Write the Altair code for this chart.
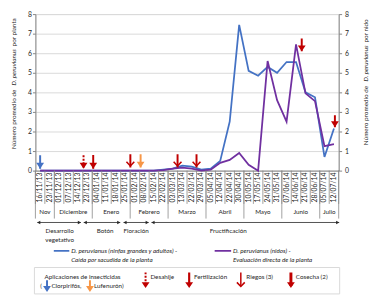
import altair as alt
import pandas as pd

# ---------------- data ----------------
dates = ["16/11/13", "23/11/13", "01/12/13", "07/12/13", "14/12/13", "23/12/13",
         "04/01/14", "11/01/14", "18/01/14", "25/01/14", "01/02/14", "08/02/14",
         "15/02/14", "22/02/14", "03/03/14", "13/03/14", "22/03/14", "29/03/14",
         "05/04/14", "12/04/14", "22/04/14", "30/04/14", "10/05/14", "17/05/14",
         "24/05/14", "31/05/14", "07/06/14", "14/06/14", "21/06/14", "28/06/14",
         "05/07/14", "12/07/14"]
blue_vals = [0, 0, 0, 0, 0, 0, 0, 0, 0, 0, 0, 0,
             0, 0.05, 0.1, 0.25, 0.2, 0.05, 0.1, 0.5, 2.5, 7.45, 5.1, 4.85,
             5.3, 5.0, 5.55, 5.55, 4.0, 3.75, 0.7, 2.15]
purple_vals = [0, 0, 0, 0, 0, 0, 0, 0, 0, 0, 0, 0,
               0, 0.02, 0.1, 0.15, 0.1, 0.0, 0.05, 0.4, 0.55, 0.9, 0.3, 0.0,
               5.6, 3.6, 2.5, 6.45, 3.95, 3.55, 1.25, 1.35]
months = ["Nov", "Diciembre", "Enero", "Febrero", "Marzo", "Abril", "Mayo", "Junio", "Julio"]
month_first = [0, 2, 6, 10, 14, 18, 22, 26, 30]
month_last = [1, 5, 9, 13, 17, 21, 25, 29, 31]
phase_from = [-0.3, 4.6, 8.8, 11.75]
phase_to = [4.3, 8.45, 11.45, 31.55]
phase_label = ["Desarrollo", "Botón", "Floración", "Fructificación"]
phase_label_at = [2.06, 6.86, 10.13, 19.85]
arrow_kind = ["Clorpirifós", "Desahije", "Fertilización", "Riegos", "Lufenurón",
              "Riegos", "Riegos", "Cosecha", "Cosecha"]
arrow_at = [0.0, 4.58, 5.6, 9.52, 10.6, 14.5, 16.5, 27.6, 31.1]
arrow_top = [0.78, 0.78, 0.8, 0.84, 0.84, 0.84, 0.84, 6.75, 2.83]
arrow_tip = [0.1, 0.1, 0.1, 0.16, 0.16, 0.16, 0.16, 6.1, 2.22]

# ---------------- styles ----------------
W, H = 310, 160
FONT = "Lato"
FS = 6.4
TXT = "#262626"
BLUE = "#4472C4"
PURPLE = "#7030A0"
RED = "#C00000"
ORANGE = "#F79646"
kinds = ["Clorpirifós", "Lufenurón", "Desahije", "Fertilización", "Riegos", "Cosecha"]
kind_color = [BLUE, ORANGE, RED, RED, RED, RED]
kind_width = [2, 2, 2, 2.2, 1.5, 3]
kind_dash = [[1, 0], [1, 0], [2, 1.5], [1, 0], [1, 0], [1, 0]]
HEAD = "M-1,-0.5L1,-0.5L0,1Z"
VHEAD = "M-1,-0.45L0,0.6L1,-0.45"


def PX(xref):
    return (xref - 33) * W / 313.0


def PY(yref):
    return yref - 11


xsc = alt.Scale(domain=[-0.5, 31.5], nice=False, zero=False)
ysc = alt.Scale(domain=[0, 8], nice=False)

series = pd.DataFrame({"i": list(range(len(dates))), "d": dates,
                       "blue": blue_vals, "purple": purple_vals})

blue = alt.Chart(series).mark_line(color=BLUE, strokeWidth=1.8).encode(
    x=alt.X("i:Q", scale=xsc,
            axis=alt.Axis(labels=False, ticks=False, grid=False, domainColor="#868686",
                          title=None)),
    y=alt.Y("blue:Q", scale=ysc,
            axis=alt.Axis(values=list(range(9)), grid=True, gridColor="#D9D9D9",
                          tickSize=3, tickColor="#868686", domainColor="#868686",
                          labelFont=FONT, labelFontSize=7, labelColor=TXT,
                          labelPadding=1, title=None)))
purple = alt.Chart(series).mark_line(color=PURPLE, strokeWidth=1.8).encode(
    x=alt.X("i:Q", scale=xsc),
    y=alt.Y("purple:Q", scale=ysc,
            axis=alt.Axis(orient="right", values=list(range(9)), grid=False,
                          tickSize=3, tickColor="#868686", domainColor="#868686",
                          labelFont=FONT, labelFontSize=7, labelColor=TXT,
                          labelPadding=3, title=None)))
date_labels = alt.Chart(series).mark_text(
    font=FONT, fontSize=7, color=TXT, angle=270, align="right", baseline="middle").encode(
    x=alt.X("i:Q", scale=xsc), y=alt.value(H + 2), text="d:N")

# ---- arrows in the chart ----
arrows = pd.DataFrame({"kind": arrow_kind, "at": arrow_at, "top": arrow_top, "tip": arrow_tip})
cscale = alt.Scale(domain=kinds, range=kind_color)
stems = alt.Chart(arrows).mark_rule().encode(
    x=alt.X("at:Q", scale=xsc),
    y=alt.Y("top:Q", scale=ysc, axis=None),
    y2="tip:Q",
    color=alt.Color("kind:N", scale=cscale, legend=None),
    strokeWidth=alt.StrokeWidth("kind:N", scale=alt.Scale(domain=kinds, range=kind_width), legend=None),
    strokeDash=alt.StrokeDash("kind:N", scale=alt.Scale(domain=kinds, range=kind_dash), legend=None))
heads = alt.Chart(arrows).transform_filter("datum.kind != 'Riegos'").mark_point(
    shape=HEAD, size=64, filled=True, opacity=1, yOffset=-4).encode(
    x=alt.X("at:Q", scale=xsc),
    y=alt.Y("tip:Q", scale=ysc, axis=None),
    color=alt.Color("kind:N", scale=cscale, legend=None))
vheads = alt.Chart(arrows).transform_filter("datum.kind == 'Riegos'").mark_point(
    shape=VHEAD, size=64, filled=False, strokeWidth=1.6, opacity=1, yOffset=-4).encode(
    x=alt.X("at:Q", scale=xsc),
    y=alt.Y("tip:Q", scale=ysc, axis=None),
    color=alt.Color("kind:N", scale=cscale, legend=None))

# ---- category separators and month row ----
sep_df = pd.DataFrame({"b": [i - 0.5 for i in range(len(dates) + 1)]})
seps = alt.Chart(sep_df).mark_rule(color="#868686", strokeWidth=0.8).encode(
    x=alt.X("b:Q", scale=xsc), y=alt.value(H), y2=alt.value(PY(205)))
mb_df = pd.DataFrame({"b": [month_first[0] - 0.5] + [m + 0.5 for m in month_last]})
msep = alt.Chart(mb_df).mark_rule(color="#868686", strokeWidth=0.8).encode(
    x=alt.X("b:Q", scale=xsc), y=alt.value(H), y2=alt.value(PY(220)))
mon_df = pd.DataFrame({"m": months, "c": [(a + b) / 2 for a, b in zip(month_first, month_last)]})
mon = alt.Chart(mon_df).mark_text(font=FONT, fontSize=FS, color=TXT, baseline="middle").encode(
    x=alt.X("c:Q", scale=xsc), y=alt.value(PY(213)), text="m:N")

# ---- phases ----
ph_df = pd.DataFrame({"f": phase_from, "t": phase_to})
ph_rule = alt.Chart(ph_df).mark_rule(color="#262626", strokeWidth=0.8).encode(
    x=alt.X("f:Q", scale=xsc), x2="t:Q", y=alt.value(PY(224)))
ph_l = alt.Chart(ph_df).mark_point(shape="triangle-left", size=14, filled=True, opacity=1,
                                   color="#262626", xOffset=1.5).encode(
    x=alt.X("f:Q", scale=xsc), y=alt.value(PY(224)))
ph_r = alt.Chart(ph_df).mark_point(shape="triangle-right", size=14, filled=True, opacity=1,
                                   color="#262626", xOffset=-1.5).encode(
    x=alt.X("t:Q", scale=xsc), y=alt.value(PY(224)))
pl_df = pd.DataFrame({"p": phase_label, "c": phase_label_at})
ph_t = alt.Chart(pl_df).mark_text(font=FONT, fontSize=FS, color=TXT, baseline="middle").encode(
    x=alt.X("c:Q", scale=xsc), y=alt.value(PY(233)), text="p:N")

dummy = pd.DataFrame({"k": [0]})


def txt(x, y, s, size=FS, italic=False, align="left", angle=0):
    return alt.Chart(dummy).mark_text(
        text=s, font=FONT, fontSize=size, fontStyle="italic" if italic else "normal",
        align=align, angle=angle, baseline="middle", color=TXT).encode(
        x=alt.value(x), y=alt.value(y))


def hline(x1, x2, y, color, w=1.8):
    return alt.Chart(dummy).mark_rule(color=color, strokeWidth=w).encode(
        x=alt.value(x1), x2=alt.value(x2), y=alt.value(y))


def arrow(x, ytop, ytip, kind):
    k = kinds.index(kind)
    col = kind_color[k]
    st = alt.Chart(dummy).mark_rule(color=col, strokeWidth=kind_width[k],
                                    strokeDash=kind_dash[k]).encode(
        x=alt.value(x), y=alt.value(ytop), y2=alt.value(ytip - 2))
    if kind == "Riegos":
        hd = alt.Chart(dummy).mark_point(shape=VHEAD, size=64, filled=False, strokeWidth=1.6,
                                         opacity=1, color=col).encode(
            x=alt.value(x), y=alt.value(ytip - 4))
    else:
        hd = alt.Chart(dummy).mark_point(shape=HEAD, size=64, filled=True, opacity=1,
                                         color=col).encode(
            x=alt.value(x), y=alt.value(ytip - 4))
    return [st, hd]


TS = 6.5
extra = [
    # y titles (mixed italic), stacked bottom-to-top
    txt(-22, 138, "Número promedio de", TS, angle=270, align="left"),
    txt(-22, 73, "D. peruvianus", TS, italic=True, angle=270, align="left"),
    txt(-22, 33, "por planta", TS, angle=270, align="left"),
    txt(338, 134, "Número promedio de", TS, angle=270, align="left"),
    txt(338, 69, "D. peruvianus", TS, italic=True, angle=270, align="left"),
    txt(338, 29, "por nido", TS, angle=270, align="left"),
    txt(PX(58), PY(242), "vegetativo", FS, align="center"),
    # series legend
    hline(PX(52), PX(68), PY(253), BLUE),
    txt(PX(70), PY(253), "D. peruvianus (ninfas grandes y adultos) -", FS, italic=True),
    txt(PX(70), PY(262.7), "Caída por sacudida de la planta", FS, italic=True),
    hline(PX(218), PX(235), PY(253), PURPLE),
    txt(PX(237), PY(253), "D. peruvianus (nidos) -", FS, italic=True),
    txt(PX(237), PY(262.7), "Evaluación directa de la planta", FS, italic=True),
]
# box legend
box = alt.Chart(dummy).mark_rect(fill="white", stroke="#D9D9D9", strokeWidth=1).encode(
    x=alt.value(PX(32)), x2=alt.value(PX(347)), y=alt.value(PY(270)), y2=alt.value(PY(297)))
extra.append(box)
extra += [
    txt(PX(42.5), PY(279.3), "Aplicaciones de insecticidas"),
    txt(PX(38), PY(289.3), "("),
    txt(PX(49.5), PY(289.3), "Clorpirifós,"),
    txt(PX(93.5), PY(289.3), "Lufenurón)"),
    txt(PX(151.7), PY(279.3), "Desahije"),
    txt(PX(196.7), PY(279.3), "Fertilización"),
    txt(PX(250.7), PY(279.3), "Riegos (3)"),
    txt(PX(301.7), PY(279.3), "Cosecha (2)"),
]
extra += arrow(PX(45), PY(283), PY(295), "Clorpirifós")
extra += arrow(PX(89.3), PY(283), PY(295), "Lufenurón")
extra += arrow(PX(146.7), PY(275), PY(291), "Desahije")
extra += arrow(PX(191.7), PY(275), PY(291), "Fertilización")
extra += arrow(PX(245), PY(275), PY(291), "Riegos")
extra += arrow(PX(296.7), PY(275), PY(291), "Cosecha")

chart = alt.layer(
    blue, purple, date_labels, stems, heads, vheads, seps, msep, mon,
    ph_rule, ph_l, ph_r, ph_t, *extra
).resolve_axis(y="independent").properties(
    width=W, height=H,
    autosize=alt.AutoSizeParams(type="none"),
    padding={"left": 28, "top": 3, "right": 32, "bottom": 129},
).configure_view(stroke=None).configure(background="white")

chart.save("out.html", embed_options={"renderer": "svg", "actions": False})
